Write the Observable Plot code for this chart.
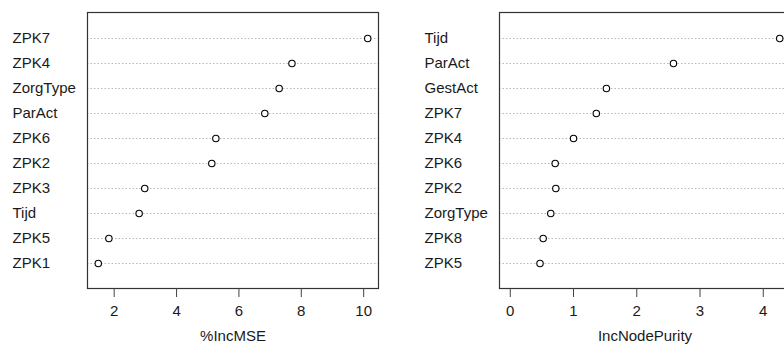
<!DOCTYPE html>
<html>
<head>
<meta charset="utf-8">
<script src="https://cdn.jsdelivr.net/npm/d3@7"></script>
<script src="https://cdn.jsdelivr.net/npm/@observablehq/plot@0.6"></script>
<style>
  html, body { margin: 0; padding: 0; background: #fff; overflow: hidden; width: 784px; height: 344px; }
  #wrap { position: relative; width: 784px; height: 344px; overflow: hidden; }
  #left, #right { position: absolute; top: 0; }
  #left { left: 0; width: 392px; }
  #right { left: 392px; width: 412px; }
  svg { font-family: "Liberation Sans", Arial, sans-serif; max-width: none !important; }
</style>
</head>
<body>
<div id="wrap"><div id="left"></div><div id="right"></div></div>
<script>
// Left panel: %IncMSE (top to bottom)
const mseNames  = ["ZPK7", "ZPK4", "ZorgType", "ParAct", "ZPK6", "ZPK2", "ZPK3", "Tijd", "ZPK5", "ZPK1"];
const mseValues = [10.13, 7.70, 7.29, 6.83, 5.26, 5.13, 2.98, 2.80, 1.83, 1.49];
const mseTicks  = [2, 4, 6, 8, 10];

// Right panel: IncNodePurity (top to bottom)
const purNames  = ["Tijd", "ParAct", "GestAct", "ZPK7", "ZPK4", "ZPK6", "ZPK2", "ZorgType", "ZPK8", "ZPK5"];
const purValues = [4.26, 2.58, 1.52, 1.36, 1.00, 0.71, 0.72, 0.64, 0.52, 0.47];
const purTicks  = [0, 1, 2, 3, 4];

function panel(names, values, ticks, label, xmin, opts) {
  const data = names.map((n, i) => ({name: n, value: values[i]}));
  const lo = xmin, hi = d3.max(values);
  const pad = (hi - lo) * 0.04;
  return Plot.plot({
    width: opts.width,
    height: 344,
    marginLeft: opts.marginLeft,
    marginRight: opts.marginRight,
    marginTop: 12,
    marginBottom: 56,
    style: {fontSize: "15px", fontFamily: "'Liberation Sans', Arial, sans-serif", color: "#1a1a1a", background: "#fff", maxWidth: "none"},
    x: {domain: [lo - pad, hi + pad], nice: false},
    y: {type: "point", domain: names, padding: 1},
    marks: [
      Plot.ruleY(data, {y: "name", stroke: "#b8b8b8", strokeWidth: 1, strokeDasharray: "1.5,2"}),
      Plot.dot(data, {x: "value", y: "name", r: 3.2, stroke: "#000", strokeWidth: 1.1, fill: "#fff"}),
      Plot.frame({stroke: "#333", strokeWidth: 1.2}),
      Plot.axisX({ticks: ticks, tickFormat: d3.format("d"), tickSize: 9, tickPadding: 8, stroke: "#444", fontSize: 15,
                  label: label, labelAnchor: "center", labelArrow: "none", labelOffset: 52, fill: "#1a1a1a"}),
      Plot.axisY({tickSize: 0, tickPadding: 0, textAnchor: "start", dx: -75, label: null, fontSize: 15, fill: "#1a1a1a"})
    ]
  });
}

document.getElementById("left").appendChild(
  panel(mseNames, mseValues, mseTicks, "%IncMSE", d3.min(mseValues), {width: 392, marginLeft: 87, marginRight: 14})
);
document.getElementById("right").appendChild(
  panel(purNames, purValues, purTicks, "IncNodePurity", 0, {width: 412, marginLeft: 107, marginRight: 14})
);
</script>
</body>
</html>
